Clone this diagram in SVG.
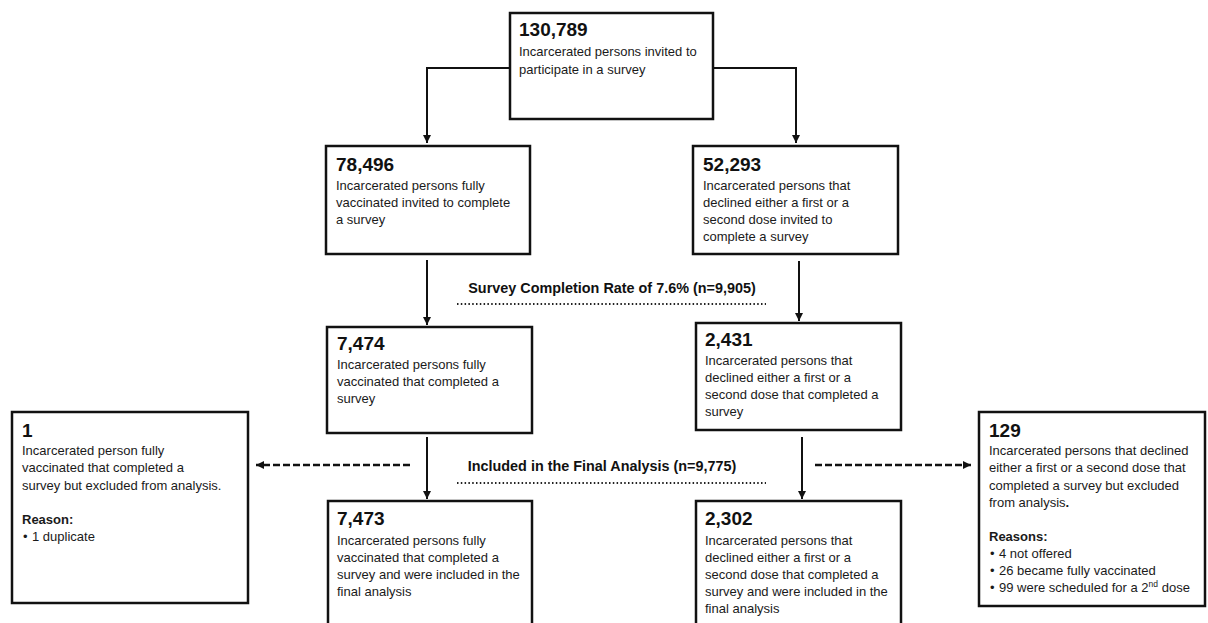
<svg xmlns="http://www.w3.org/2000/svg" width="1208" height="623" viewBox="0 0 1208 623">
<style>
.box{fill:#fff;stroke:#111;stroke-width:2.5}
text{font-family:"Liberation Sans",Arial,sans-serif;font-size:13px;fill:#1a1a1a}
.n{font-weight:bold;font-size:19px;fill:#111}
.b{font-weight:bold}
.lbl{font-weight:bold;font-size:14.4px;fill:#111}
.ln{stroke:#111;stroke-width:2;fill:none}
.ar{marker-end:url(#ah)}
.dash{stroke-width:2.5;stroke-dasharray:7 3}
.dot{stroke:#222;stroke-width:2;stroke-dasharray:1.5 2.3;fill:none}
</style>
<defs>
<marker id="ah" markerUnits="userSpaceOnUse" markerWidth="9" markerHeight="9" refX="8" refY="4" orient="auto">
<path d="M0,0 L8,4 L0,8 z" fill="#111"/>
</marker>
</defs>
<rect width="1208" height="623" fill="#fff"/>

<g id="connectors">
<polyline class="ln ar" points="510,68 427,68 427,143"/>
<polyline class="ln ar" points="713,68 796,68 796,143"/>
<line class="ln ar" x1="427" y1="260" x2="427" y2="325"/>
<line class="ln ar" x1="799" y1="261" x2="799" y2="321"/>
<line class="ln ar" x1="427" y1="437" x2="427" y2="499"/>
<line class="ln ar" x1="802" y1="437" x2="802" y2="499"/>
<line class="ln dash ar" x1="410" y1="465" x2="256" y2="465"/>
<line class="ln dash ar" x1="815" y1="465" x2="971" y2="465"/>
<line class="dot" x1="457" y1="304" x2="766" y2="304"/>
<line class="dot" x1="457" y1="483" x2="766" y2="483"/>
</g>

<g id="label-completion">
<text class="lbl" x="612" y="293" text-anchor="middle">Survey Completion Rate of 7.6% (n=9,905)</text>
</g>
<g id="label-included">
<text class="lbl" x="602" y="471" text-anchor="middle">Included in the Final Analysis (n=9,775)</text>
</g>

<g id="n-invited">
<rect class="box" x="510" y="13" width="203" height="106"/>
<text class="n" x="519" y="36">130,789</text>
<text x="519" y="56">Incarcerated persons invited to</text>
<text x="519" y="74">participate in a survey</text>
</g>

<g id="n-vacc-invited">
<rect class="box" x="326" y="146" width="204" height="108"/>
<text class="n" x="336" y="171">78,496</text>
<text x="336" y="190">Incarcerated persons fully</text>
<text x="336" y="207">vaccinated invited to complete</text>
<text x="336" y="224">a survey</text>
</g>

<g id="n-decl-invited">
<rect class="box" x="693" y="146" width="205" height="108"/>
<text class="n" x="703" y="171">52,293</text>
<text x="703" y="190">Incarcerated persons that</text>
<text x="703" y="207">declined either a first or a</text>
<text x="703" y="224">second dose invited to</text>
<text x="703" y="241">complete a survey</text>
</g>

<g id="n-vacc-completed">
<rect class="box" x="327" y="327" width="205" height="106"/>
<text class="n" x="337" y="350">7,474</text>
<text x="337" y="369">Incarcerated persons fully</text>
<text x="337" y="386">vaccinated that completed a</text>
<text x="337" y="403">survey</text>
</g>

<g id="n-decl-completed">
<rect class="box" x="696" y="323" width="205" height="107"/>
<text class="n" x="705" y="346">2,431</text>
<text x="705" y="365">Incarcerated persons that</text>
<text x="705" y="382">declined either a first or a</text>
<text x="705" y="399">second dose that completed a</text>
<text x="705" y="416">survey</text>
</g>

<g id="n-vacc-included">
<rect class="box" x="328" y="501" width="204" height="150"/>
<text class="n" x="337" y="525">7,473</text>
<text x="337" y="545">Incarcerated persons fully</text>
<text x="337" y="562">vaccinated that completed a</text>
<text x="337" y="579">survey and were included in the</text>
<text x="337" y="596">final analysis</text>
</g>

<g id="n-decl-included">
<rect class="box" x="696" y="501" width="205" height="150"/>
<text class="n" x="705" y="525">2,302</text>
<text x="705" y="545">Incarcerated persons that</text>
<text x="705" y="562">declined either a first or a</text>
<text x="705" y="579">second dose that completed a</text>
<text x="705" y="596">survey and were included in the</text>
<text x="705" y="613">final analysis</text>
</g>

<g id="n-vacc-excluded">
<rect class="box" x="12" y="412" width="236" height="191"/>
<text class="n" x="22" y="437">1</text>
<text x="22" y="455">Incarcerated person fully</text>
<text x="22" y="472">vaccinated that completed a</text>
<text x="22" y="490">survey but excluded from analysis.</text>
<text class="b" x="22" y="524">Reason:</text>
<text x="23" y="541">•</text>
<text x="32" y="541">1 duplicate</text>
</g>

<g id="n-decl-excluded">
<rect class="box" x="979" y="412" width="226" height="194"/>
<text class="n" x="989" y="437">129</text>
<text x="989" y="455">Incarcerated persons that declined</text>
<text x="989" y="472">either a first or a second dose that</text>
<text x="989" y="490">completed a survey but excluded</text>
<text x="989" y="507">from analysis<tspan class="b">.</tspan></text>
<text class="b" x="989" y="541">Reasons:</text>
<text x="990" y="558">•</text>
<text x="999" y="558">4 not offered</text>
<text x="990" y="575">•</text>
<text x="999" y="575">26 became fully vaccinated</text>
<text x="990" y="592">•</text>
<text x="999" y="592">99 were scheduled for a 2<tspan font-size="8.5" dy="-5">nd</tspan><tspan dy="5"> dose</tspan></text>
</g>
</svg>
